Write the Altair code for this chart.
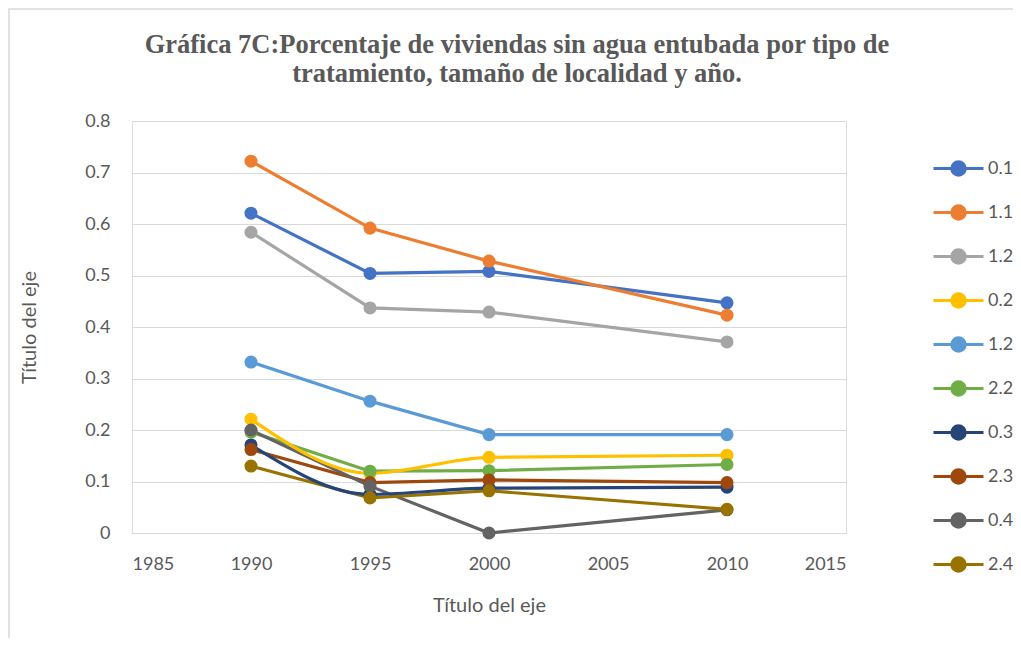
import altair as alt
import pandas as pd

years = [1990, 1995, 2000, 2010]
series_keys = ["0.1a", "1.1a", "1.2a", "0.2a", "1.2b", "2.2a", "0.3a", "2.3a", "0.4a", "2.4a"]
series_labels = ["0.1", "1.1", "1.2", "0.2", "1.2", "2.2", "0.3", "2.3", "0.4", "2.4"]
colors = ["#4472C4", "#ED7D31", "#A5A5A5", "#FFC000", "#5B9BD5",
          "#70AD47", "#264478", "#9E480E", "#636363", "#997300"]
smooth_series = ["0.2a", "0.3a"]
title_lines = ["Gráfica 7C:Porcentaje de viviendas sin agua entubada por tipo de",
               "tratamiento, tamaño de localidad y año."]

v_01 = [0.621, 0.504, 0.508, 0.447]
v_11 = [0.722, 0.592, 0.528, 0.423]
v_12a = [0.584, 0.437, 0.429, 0.371]
v_02 = [0.221, 0.116, 0.147, 0.151]
v_12b = [0.332, 0.256, 0.191, 0.191]
v_22 = [0.196, 0.120, 0.121, 0.133]
v_03 = [0.171, 0.075, 0.087, 0.089]
v_23 = [0.162, 0.098, 0.103, 0.098]
v_04 = [0.200, 0.091, 0.000, 0.045]
v_24 = [0.130, 0.068, 0.082, 0.046]

values = [v_01, v_11, v_12a, v_02, v_12b, v_22, v_03, v_23, v_04, v_24]

rows = []
for i, (k, vals) in enumerate(zip(series_keys, values)):
    for y, v in zip(years, vals):
        rows.append({"serie": k, "orden": i, "anio": y, "valor": v})
df = pd.DataFrame(rows)

FONT = "Lato"
GREY = "#595959"

legend_path = ("M-1,0L1,0M-0.27,0A0.27,0.27,0,1,0,0.27,0"
               "A0.27,0.27,0,1,0,-0.27,0Z")

color = alt.Color(
    "serie:N",
    scale=alt.Scale(domain=series_keys, range=colors),
    sort=series_keys,
    legend=alt.Legend(
        title=None,
        orient="none",
        legendX=800,
        legendY=21,
        symbolType=legend_path,
        symbolSize=2500,
        symbolStrokeWidth=3,
        labelFont=FONT,
        labelFontSize=18,
        labelColor=GREY,
        labelOffset=3,
        rowPadding=4,
        padding=0,
        labelExpr="substring(datum.label, 0, 3)",
    ),
)

x = alt.X(
    "anio:Q",
    scale=alt.Scale(domain=[1985, 2015], nice=False, zero=False),
    axis=alt.Axis(
        values=[1985, 1990, 1995, 2000, 2005, 2010, 2015],
        format="d",
        title="Título del eje",
        titleFont=FONT,
        titleFontSize=20,
        titleFontWeight="normal",
        titleColor=GREY,
        titlePadding=22,
        labelFont=FONT,
        labelFontSize=18,
        labelColor=GREY,
        labelPadding=22,
        ticks=False,
        grid=False,
        domainColor="#d9d9d9",
        domainWidth=1,
    ),
)
y = alt.Y(
    "valor:Q",
    scale=alt.Scale(domain=[0, 0.8], nice=False),
    axis=alt.Axis(
        values=[0, 0.1, 0.2, 0.3, 0.4, 0.5, 0.6, 0.7, 0.8],
        format=".1~f",
        title="Título del eje",
        titleFont=FONT,
        titleFontSize=20,
        titleFontWeight="normal",
        titleColor=GREY,
        titlePadding=45,
        labelFont=FONT,
        labelFontSize=18,
        labelColor=GREY,
        labelPadding=22,
        ticks=False,
        domain=False,
        gridColor="#d9d9d9",
        gridWidth=1,
    ),
)

base = alt.Chart(df)

frame = alt.Chart(pd.DataFrame({"f": [0]})).mark_rect(
    fill="transparent", stroke="#d9d9d9", strokeWidth=1.5
).encode(
    x=alt.value(-123), x2=alt.value(1000),
    y=alt.value(-112), y2=alt.value(700),
)

title = alt.Chart(pd.DataFrame({"t": ["\n".join(title_lines)]})).mark_text(
    font="Liberation Serif", fontSize=26.5, fontWeight="bold", color=GREY,
    align="center", baseline="alphabetic", lineBreak="\n", lineHeight=29,
).encode(
    text="t:N", x=alt.value(385), y=alt.value(-68),
)

straight = base.transform_filter(
    alt.FieldOneOfPredicate(field="serie", oneOf=[s for s in series_keys if s not in smooth_series])
).mark_line(strokeWidth=3.2).encode(x=x, y=y, color=color, order="anio:Q")

smooth = base.transform_filter(
    alt.FieldOneOfPredicate(field="serie", oneOf=smooth_series)
).mark_line(strokeWidth=3.2, interpolate="monotone").encode(x=x, y=y, color=color, order="anio:Q")

points = base.mark_point(filled=True, size=170, opacity=1).encode(
    x=x, y=y, color=color, order="orden:Q"
)

chart = alt.layer(frame, title, straight, smooth, points).properties(
    width=714,
    height=412,
    autosize=alt.AutoSizeParams(type="none"),
    padding={"left": 124, "top": 113, "right": 167, "bottom": 105},
).configure_view(stroke=None).configure(background="white")

chart.save("out.html", embed_options={"renderer": "svg", "actions": False})
